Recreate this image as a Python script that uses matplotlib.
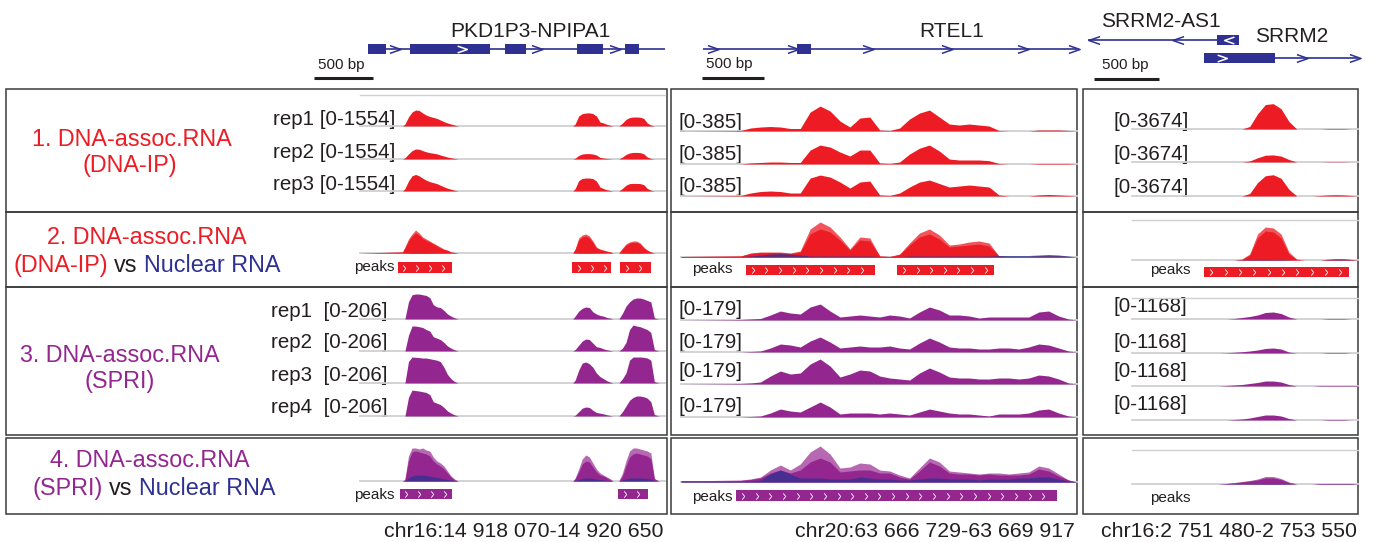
import numpy as np
import matplotlib
matplotlib.use('Agg')
import matplotlib.pyplot as plt
from matplotlib.path import Path
from matplotlib.patches import Rectangle

plt.rcParams['font.family'] = ['Liberation Sans', 'DejaVu Sans']

W, H = 1375, 542

RED = '#ed1c24'
RED_LT = '#f1555b'
PURPLE = '#93278f'
PURPLE_LT = '#b768b3'
BLUE = '#2e3192'
GREY = '#cfcfd4'
INK = '#231f20'

# ---------------- loci ----------------
REGIONS = ['chr16:14 918 070-14 920 650', 'chr20:63 666 729-63 669 917', 'chr16:2 751 480-2 753 550']
LENGTHS = [2580, 3188, 2070]          # bp shown in each locus

# gene models (bp from locus start)
PKD_SPAN = (68, 2580)
PKD_EXONS = [(68, 220), (423, 1100), (1227, 1405), (1836, 2056), (2242, 2360)]
PKD_ARROWS = [296, 1497, 2157]
PKD_ARROWS_IN = [863]
RTEL_SPAN = (177, 3188)
RTEL_EXONS = [(934, 1047)]
RTEL_ARROWS = [258, 902, 1505, 2141, 2753, 3164]
AS1_SPAN = (0, 1158)
AS1_EXONS = [(990, 1158)]
AS1_ARROWS = [46, 690]
AS1_ARROWS_IN = [1081]
SRRM2_SPAN = (890, 2070)
SRRM2_EXONS = [(890, 1434)]
SRRM2_ARROWS = [1641, 2048]
SRRM2_ARROWS_IN = [1028]

# ---------------- locus 1 coverage ----------------
L_POS = [0, 360,
         380, 410, 440, 470, 500, 530, 560, 590, 620, 650, 680, 710, 740, 770, 800, 830,
         850, 1800,
         1820, 1850, 1880, 1910, 1940, 1970, 2000, 2030, 2060, 2090, 2120, 2140,
         2170,
         2190, 2220, 2250, 2280, 2310, 2340, 2370, 2400, 2430, 2460, 2490, 2510,
         2530, 2580]
L_IP1 = [0, 0,
         100, 450, 700, 800, 780, 650, 550, 480, 430, 380, 300, 220, 150, 100, 50, 0,
         0, 0,
         100, 500, 620, 650, 660, 620, 500, 200, 150, 80, 30, 0,
         0,
         0, 150, 330, 420, 450, 450, 440, 380, 150, 50, 0, 0,
         0, 0]
L_IP2 = [0, 0,
         60, 250, 420, 500, 490, 420, 360, 320, 290, 260, 200, 150, 100, 60, 30, 0,
         0, 0,
         40, 180, 250, 270, 270, 250, 200, 80, 50, 25, 10, 0,
         0,
         0, 100, 230, 300, 330, 330, 320, 260, 100, 30, 0, 0,
         0, 0]
L_IP3 = [0, 0,
         120, 500, 760, 830, 760, 640, 540, 470, 420, 370, 290, 210, 140, 90, 40, 0,
         0, 0,
         120, 520, 630, 650, 650, 620, 500, 200, 120, 60, 20, 0,
         0,
         0, 130, 290, 370, 380, 380, 370, 320, 130, 40, 0, 0,
         0, 0]
L_VS_LT = [0, 1,
           6, 14, 19, 23, 20, 16, 14, 12, 10, 8, 6, 4, 3, 1, 0.5, 0,
           0, 0,
           4, 15, 18, 19, 17, 12, 6, 4, 3, 2, 1, 0,
           0,
           0, 5, 9, 11, 12, 12, 10, 6, 3, 1, 0, 0,
           0, 0]
L_VS = [0, 1,
        5, 12, 17, 20, 18, 14.5, 12.5, 11, 9, 7, 5, 3.5, 2.5, 1, 0.5, 0,
        0, 0,
        3.5, 13, 16, 17, 15, 10.5, 5, 3.5, 2.5, 1.5, 1, 0,
        0,
        0, 4, 8, 10, 10.5, 10.5, 9, 5, 2.5, 1, 0, 0,
        0, 0]
L_VS_NUC = [0, 0.2,
            0.2, 0.4, 0.5, 0.6, 0.6, 0.5, 0.5, 0.4, 0.4, 0.3, 0.3, 0.2, 0.2, 0.1, 0.1, 0,
            0, 0,
            0.2, 0.3, 0.4, 0.4, 0.4, 0.3, 0.2, 0.2, 0.1, 0.1, 0, 0,
            0,
            0, 0.2, 0.3, 0.4, 0.4, 0.4, 0.3, 0.2, 0.1, 0, 0, 0,
            0, 0]
L_SP1 = [0, 0,
         0, 120, 170, 175, 175, 170, 165, 150, 100, 85, 80, 60, 35, 20, 8, 0,
         0, 0,
         20, 55, 75, 84, 80, 50, 35, 25, 20, 10, 5, 0,
         0,
         0, 40, 90, 120, 140, 147, 147, 140, 130, 120, 8, 3,
         0, 0]
L_SP2 = [0, 0,
         0, 110, 175, 175, 170, 165, 150, 140, 100, 90, 80, 60, 35, 20, 8, 0,
         0, 0,
         10, 40, 70, 84, 80, 55, 30, 25, 15, 8, 3, 0,
         0,
         0, 20, 60, 150, 182, 175, 170, 160, 150, 130, 10, 5,
         0, 0]
L_SP3 = [0, 0,
         0, 150, 182, 180, 178, 175, 175, 170, 165, 160, 150, 110, 60, 30, 10, 0,
         0, 0,
         20, 90, 140, 147, 135, 110, 70, 45, 30, 15, 5, 0,
         0,
         0, 30, 70, 160, 182, 182, 182, 180, 175, 160, 10, 5,
         0, 0]
L_SP4 = [0, 0,
         0, 130, 182, 178, 175, 170, 165, 150, 100, 90, 80, 60, 35, 20, 8, 0,
         0, 0,
         5, 30, 55, 63, 60, 40, 25, 20, 15, 8, 3, 0,
         0,
         0, 30, 70, 110, 130, 140, 140, 135, 125, 100, 10, 5,
         0, 0]
L_SV_LT = [0, 0,
           2, 25, 33, 33, 32, 33, 31, 30, 24, 20, 18, 15, 10, 5, 2, 0,
           0, 0,
           3, 12, 22, 26, 24, 18, 12, 8, 6, 4, 2, 0,
           0,
           0, 8, 20, 30, 33, 33, 32, 31, 30, 28, 3, 1,
           0, 0]
L_SV = [0, 0,
        1, 20, 29, 30, 29, 28, 27, 25, 20, 17, 15, 12, 8, 4, 1, 0,
        0, 0,
        2, 9, 17, 20, 19, 14, 9, 6, 5, 3, 1, 0,
        0,
        0, 5, 15, 24, 27, 28, 27, 26, 25, 22, 2, 1,
        0, 0]
L_SV_NUC = [0, 0,
            0.5, 3, 5, 6, 6, 6, 5.5, 5, 4, 3.5, 3, 2, 1.5, 1, 0.5, 0,
            0, 0,
            0.5, 1.5, 2.5, 3, 3, 2.5, 2, 1.5, 1, 0.5, 0.5, 0,
            0,
            0, 1, 2, 3, 3, 3, 3, 3, 2.5, 2, 0.5, 0,
            0, 0]
L_PEAKS_IP = [(321, 778), (1794, 2123), (2200, 2462)]
L_PEAKS_SP = [(338, 778), (2183, 2436)]

# ---------------- locus 2 coverage ----------------
M_POS = [0, 480, 560, 640, 720, 800, 880, 960,
         1040, 1120, 1200, 1280, 1360,
         1440, 1520, 1600, 1680, 1760,
         1840, 1920, 2000, 2080, 2160,
         2240, 2320, 2400, 2480, 2560,
         2640, 2720, 2800, 2880, 2960,
         3040, 3120, 3188]
M_IP1 = [0, 6, 36, 48, 54, 48, 30, 30,
         228, 300, 240, 120, 48,
         156, 168, 12, 6, 36,
         144, 216, 252, 168, 84,
         72, 84, 72, 60, 6,
         0, 0, 0, 12, 12,
         12, 6, 0]
M_IP2 = [0, 0, 12, 18, 24, 24, 18, 18,
         168, 228, 204, 144, 96,
         168, 168, 12, 6, 24,
         120, 190, 228, 156, 60,
         48, 48, 48, 40, 6,
         0, 0, 0, 6, 6,
         6, 6, 0]
M_IP3 = [0, 6, 36, 54, 60, 54, 36, 36,
         216, 252, 228, 168, 96,
         168, 180, 12, 6, 36,
         108, 168, 192, 150, 108,
         120, 132, 120, 108, 12,
         0, 0, 0, 12, 18,
         12, 6, 0]
M_VS_LT = [0.5, 1, 4, 5, 5, 5, 4, 6,
           28, 35, 30, 20, 8,
           20, 19, 1, 0.5, 3,
           14, 24, 28, 22, 12,
           13, 15, 16, 14, 1,
           0.5, 0.5, 0.5, 1, 1,
           1, 0.5, 0]
M_VS = [0.5, 1, 3.5, 4.5, 4.5, 4.5, 3.5, 5,
        23, 28, 25, 17, 7,
        17, 16, 1, 0.5, 2.5,
        12, 20, 23, 18, 10,
        11, 12, 13, 11, 1,
        0.5, 0.5, 0.5, 1, 1,
        1, 0.5, 0]
M_VS_NUC = [0.5, 0.5, 1, 2, 3, 3.5, 3, 2,
            1, 1, 1, 1, 1,
            1, 1, 0.5, 0.5, 0.5,
            1, 1, 1, 1, 1,
            1, 1, 1, 1, 1.5,
            1.5, 1.5, 1.5, 2, 2.5,
            2, 1, 0]
M_SP1 = [0, 3, 6, 9, 30, 54, 42, 36,
         78, 96, 54, 18, 24,
         30, 24, 18, 30, 24,
         12, 48, 78, 60, 30,
         30, 24, 12, 18, 18,
         18, 18, 18, 48, 54,
         24, 6, 0]
M_SP2 = [0, 0, 3, 6, 24, 48, 42, 30,
         66, 90, 60, 24, 30,
         36, 30, 30, 36, 24,
         18, 54, 84, 60, 30,
         24, 24, 18, 18, 24,
         24, 18, 30, 48, 42,
         24, 6, 0]
M_SP3 = [0, 3, 6, 12, 48, 78, 60, 66,
         120, 150, 108, 42, 60,
         84, 78, 48, 36, 30,
         24, 66, 96, 72, 42,
         36, 36, 30, 30, 36,
         36, 30, 36, 54, 48,
         30, 6, 0]
M_SP4 = [0, 0, 3, 6, 24, 48, 36, 30,
         60, 90, 60, 18, 24,
         24, 24, 18, 24, 18,
         12, 30, 48, 36, 24,
         18, 18, 12, 6, 18,
         18, 18, 24, 42, 48,
         24, 6, 0]
M_SV_LT = [1, 2, 3, 5, 12, 17, 12, 18,
           30, 36, 28, 14, 15,
           19, 18, 12, 11, 7,
           4, 14, 24, 20, 11,
           10, 9, 8, 9, 9,
           8, 9, 10, 16, 14,
           8, 2, 0]
M_SV = [0.5, 1.5, 2.5, 4, 9, 12, 9, 12,
        20, 24, 20, 10, 11,
        12, 12, 9, 9, 5,
        3, 11, 20, 16, 9,
        8, 8, 7, 8, 7,
        7, 7, 8, 13, 11,
        6, 2, 0]
M_SV_NUC = [1.5, 0.5, 1, 2, 8, 12, 8, 4,
            4, 4, 3, 3, 3,
            5, 4, 3, 3, 2,
            2, 3, 4, 4, 3,
            3, 3, 2, 3, 3,
            3, 4, 4, 5, 5,
            3, 1, 0]
M_PEAKS_IP = [(523, 1562), (1739, 2520)]
M_PEAKS_SP = [(443, 3027)]

# ---------------- locus 3 coverage ----------------
R_POS = [0, 1000, 1060, 1120, 1180, 1240, 1300, 1360, 1420, 1480,
         1540, 1600, 1660, 1720, 1780, 1840, 1900, 1960, 2020, 2070]
R_IP1 = [0, 0, 0, 0, 0, 300, 1800, 2900, 3000, 2400, 900, 0, 0, 0, 0, 60, 60, 60, 0, 0]
R_IP2 = [0, 0, 0, 0, 0, 120, 500, 800, 840, 700, 300, 0, 0, 0, 0, 30, 30, 30, 0, 0]
R_IP3 = [0, 0, 0, 0, 0, 300, 1600, 2400, 2520, 2100, 800, 0, 0, 0, 60, 120, 150, 120, 60, 0]
R_VS_LT = [0, 0, 0, 0, 1, 6, 26, 33, 32, 26, 8, 1, 0, 0, 0, 1, 1.5, 1.5, 0.5, 0]
R_VS = [0, 0, 0, 0, 0.5, 5, 22, 29, 28, 22, 6, 0.5, 0, 0, 0, 0.5, 1, 1, 0.5, 0]
R_VS_NUC = [0, 0, 0, 0, 0.3, 0.5, 0.6, 0.6, 0.6, 0.5, 0.3, 0, 0, 0, 0, 0.3, 0.5, 0.5, 0.3, 0]
R_SP1 = [0, 0, 0, 20, 60, 100, 160, 260, 280, 220, 80, 0, 0, 0, 0, 20, 20, 20, 0, 0]
R_SP2 = [0, 0, 10, 30, 50, 80, 120, 180, 200, 160, 40, 0, 0, 0, 0, 20, 20, 20, 0, 0]
R_SP3 = [0, 0, 20, 40, 60, 100, 140, 200, 200, 160, 60, 0, 0, 0, 20, 20, 20, 20, 20, 20]
R_SP4 = [0, 0, 0, 20, 40, 80, 140, 200, 200, 160, 60, 0, 0, 0, 0, 20, 20, 20, 0, 0]
R_SV_LT = [0, 0, 0.5, 1.5, 2.5, 3.5, 5, 7.5, 7.5, 5.5, 2, 0, 0, 0, 0.5, 0.5, 0.5, 0.5, 0.5, 0]
R_SV = [0, 0, 0.5, 1, 2, 3, 4, 6, 6, 4.5, 1.5, 0, 0, 0, 0.5, 0.5, 0.5, 0.5, 0.5, 0]
R_SV_NUC = [0, 0, 0.2, 0.3, 0.4, 0.5, 0.5, 0.6, 0.6, 0.5, 0.3, 0, 0, 0, 0.2, 0.2, 0.2, 0.2, 0.2, 0]
R_PEAKS_IP = [(890, 2002)]

# pixel spans of the three data panels
COLS = [(360, 665), (681, 1077), (1088, 1358)]

CHEV_R = Path([(-0.5, 0.35), (0.5, 0), (-0.5, -0.35)], [Path.MOVETO, Path.LINETO, Path.LINETO])
CHEV_L = Path([(0.5, 0.35), (-0.5, 0), (0.5, -0.35)], [Path.MOVETO, Path.LINETO, Path.LINETO])
TICK = Path([(-0.2, 0.5), (0.2, 0), (-0.2, -0.5)], [Path.MOVETO, Path.LINETO, Path.LINETO])

fig = plt.figure(figsize=(W / 100, H / 100), dpi=100, facecolor='white')
bg = fig.add_axes([0, 0, 1, 1])
bg.set_xlim(0, W)
bg.set_ylim(H, 0)
bg.axis('off')


def add_ax(col, ytop, ybot, ymin, ymax):
    x0, x1 = COLS[col]
    ax = fig.add_axes([x0 / W, 1 - ybot / H, (x1 - x0) / W, (ybot - ytop) / H])
    ax.set_xlim(0, LENGTHS[col])
    ax.set_ylim(ymin, ymax)
    ax.axis('off')
    return ax


def coverage(col, ybase, height, ymax, pos, vals, color, light=None, lcolor=None,
             nuc=None, x_from=0.0, top=None):
    ax = add_ax(col, ybase - height, ybase, 0, ymax)
    ax.axhline(0, xmin=x_from, color=GREY, lw=1.3, zorder=1, clip_on=False)
    if top is not None:
        ax.axhline(top, xmin=x_from, color=GREY, lw=1.0, zorder=1, clip_on=False)
    if light is not None:
        ax.fill_between(pos, light, color=lcolor, lw=0, zorder=2)
    ax.fill_between(pos, vals, color=color, lw=0, zorder=3)
    if nuc is not None:
        ax.fill_between(pos, nuc, color=BLUE, alpha=0.75, lw=0, zorder=4)
    return ax


def peaks(col, ytop, ybot, intervals, color):
    ax = add_ax(col, ytop, ybot, 0, 1)
    ax.broken_barh([(s, e - s) for s, e in intervals], (0, 1), facecolors=color, lw=0)
    for s, e in intervals:
        xs = np.arange(s + 55, e - 30, 110)
        ax.plot(xs, np.full(xs.shape, 0.5), ls='none', marker=TICK, ms=4.5,
                mfc='none', mec='white', mew=0.6)


def gene(ax, y, span, exons, arrows, inner, mark):
    ax.plot(span, [y, y], color=BLUE, lw=1.2, solid_capstyle='butt', clip_on=False)
    ax.broken_barh([(s, e - s) for s, e in exons], (y - 5, 10), facecolors=BLUE, lw=0)
    ax.plot(arrows, [y] * len(arrows), ls='none', marker=mark, ms=8, mfc='none',
            mec=BLUE, mew=1.1, clip_on=False)
    if inner:
        ax.plot(inner, [y] * len(inner), ls='none', marker=mark, ms=7, mfc='none',
                mec='white', mew=1.1, zorder=5)


# ---------------- gene tracks ----------------
gax = []
for c in range(3):
    x0, x1 = COLS[c]
    a = fig.add_axes([x0 / W, 1 - 86 / H, (x1 - x0) / W, 86 / H])
    a.set_xlim(0, LENGTHS[c])
    a.set_ylim(86, 0)
    a.axis('off')
    gax.append(a)

gene(gax[0], 49, PKD_SPAN, PKD_EXONS, PKD_ARROWS, PKD_ARROWS_IN, CHEV_R)
gene(gax[1], 49, RTEL_SPAN, RTEL_EXONS, RTEL_ARROWS, [], CHEV_R)
gene(gax[2], 40, AS1_SPAN, AS1_EXONS, AS1_ARROWS, AS1_ARROWS_IN, CHEV_L)
gene(gax[2], 58, SRRM2_SPAN, SRRM2_EXONS, SRRM2_ARROWS, SRRM2_ARROWS_IN, CHEV_R)

# 500 bp scale bars
for a, start, yb in [(gax[0], -389, 78), (gax[1], 169, 78), (gax[2], 46, 79)]:
    a.plot([start, start + 500], [yb, yb], color=INK, lw=2.2, clip_on=False,
           solid_capstyle='butt')

GS = 15
bg.text(530, 37, 'PKD1P3-NPIPA1', fontsize=GS, color=INK, ha='center', va='baseline')
bg.text(952, 37, 'RTEL1', fontsize=GS, color=INK, ha='center', va='baseline')
bg.text(1101, 27, 'SRRM2-AS1', fontsize=GS, color=INK, ha='left', va='baseline')
bg.text(1255, 42, 'SRRM2', fontsize=GS, color=INK, ha='left', va='baseline')
for x, y in [(318, 69), (706, 68), (1102, 69)]:
    bg.text(x, y, '500 bp', fontsize=11, color=INK, ha='left', va='baseline')

# ---------------- panel boxes ----------------
for x0, x1 in [(6, 667), (671, 1077), (1083, 1358)]:
    for y0, y1 in [(89, 212), (212, 287), (287, 435), (438, 514)]:
        bg.add_patch(Rectangle((x0, y0), x1 - x0, y1 - y0, fill=False,
                               ec='#3a3a3a', lw=1.1))

# ---------------- row 1: DNA-IP replicates ----------------
TS = 14.8
RF = 0.163  # right panel baselines start after the label column
for yb, vals, top in [(126, L_IP1, 1554), (159, L_IP2, None), (191, L_IP3, None)]:
    coverage(0, yb, 31, 1554, L_POS, vals, RED, top=top)
for yb, vals in [(131, M_IP1), (164, M_IP2), (196, M_IP3)]:
    coverage(1, yb, 32, 385, M_POS, vals, RED)
for yb, vals in [(129, R_IP1), (162, R_IP2), (196, R_IP3)]:
    coverage(2, yb, 31, 3674, R_POS, vals, RED, x_from=RF)

for i, (yl, ym, yr) in enumerate([(125, 128, 127), (158, 160, 160), (190, 192, 193)]):
    bg.text(395, yl, 'rep%d [0-1554]' % (i + 1), fontsize=TS, color=INK, ha='right', va='baseline')
    bg.text(679, ym, '[0-385]', fontsize=TS, color=INK, ha='left', va='baseline')
    bg.text(1114, yr, '[0-3674]', fontsize=TS, color=INK, ha='left', va='baseline')

# ---------------- row 2: DNA-IP vs nuclear ----------------
coverage(0, 253, 40, 40, L_POS, L_VS, RED, light=L_VS_LT, lcolor=RED_LT, nuc=L_VS_NUC)
coverage(1, 257, 40, 40, M_POS, M_VS, RED, light=M_VS_LT, lcolor=RED_LT, nuc=M_VS_NUC)
coverage(2, 260, 40, 40, R_POS, R_VS, RED, light=R_VS_LT, lcolor=RED_LT, nuc=R_VS_NUC,
         x_from=RF, top=40)
peaks(0, 262, 273, L_PEAKS_IP, RED)
peaks(1, 265, 275, M_PEAKS_IP, RED)
peaks(2, 267, 277, R_PEAKS_IP, RED)
bg.text(395, 271, 'peaks', fontsize=11, color=INK, ha='right', va='baseline')
bg.text(692, 273, 'peaks', fontsize=11, color=INK, ha='left', va='baseline')
bg.text(1150, 274, 'peaks', fontsize=11, color=INK, ha='left', va='baseline')

# ---------------- row 3: SPRI replicates ----------------
for yb, vals in [(319, L_SP1), (351, L_SP2), (383, L_SP3), (416, L_SP4)]:
    coverage(0, yb, 29.4, 206, L_POS, vals, PURPLE)
for yb, vals in [(320, M_SP1), (352, M_SP2), (384, M_SP3), (417, M_SP4)]:
    coverage(1, yb, 29.8, 179, M_POS, vals, PURPLE)
for yb, vals, top in [(319, R_SP1, 840), (353, R_SP2, None), (386, R_SP3, None), (420, R_SP4, None)]:
    coverage(2, yb, 29.2, 1168, R_POS, vals, PURPLE, x_from=RF, top=top)

for i, (yl, ym, yr) in enumerate([(317, 315, 312), (348, 348, 348), (381, 377, 377), (413, 412, 410)]):
    bg.text(388, yl, 'rep%d  [0-206]' % (i + 1), fontsize=TS, color=INK, ha='right', va='baseline')
    bg.text(679, ym, '[0-179]', fontsize=TS, color=INK, ha='left', va='baseline')
    bg.text(1114, yr, '[0-1168]', fontsize=TS, color=INK, ha='left', va='baseline')

# ---------------- row 4: SPRI vs nuclear ----------------
coverage(0, 481, 40, 40, L_POS, L_SV, PURPLE, light=L_SV_LT, lcolor=PURPLE_LT, nuc=L_SV_NUC)
coverage(1, 482, 40, 40, M_POS, M_SV, PURPLE, light=M_SV_LT, lcolor=PURPLE_LT, nuc=M_SV_NUC)
coverage(2, 484, 40, 40, R_POS, R_SV, PURPLE, light=R_SV_LT, lcolor=PURPLE_LT, nuc=R_SV_NUC,
         x_from=RF, top=34)
peaks(0, 489, 499, L_PEAKS_SP, PURPLE)
peaks(1, 490, 501, M_PEAKS_SP, PURPLE)
bg.text(395, 499, 'peaks', fontsize=11, color=INK, ha='right', va='baseline')
bg.text(692, 501, 'peaks', fontsize=11, color=INK, ha='left', va='baseline')
bg.text(1150, 502, 'peaks', fontsize=11, color=INK, ha='left', va='baseline')

# ---------------- row labels ----------------
LS = 16.8


def label_line(xc, y, parts):
    first = bg.text(xc, y, parts[0][0], color=parts[0][1], fontsize=LS, ha='left', va='baseline')
    prev = first
    for s, c in parts[1:]:
        prev = bg.annotate(s, xy=(1, 0), xycoords=prev, xytext=(4.5, 0), textcoords='offset points',
                           ha='left', va='bottom', color=c, fontsize=LS)
    r = fig.canvas.get_renderer()
    x0 = first.get_window_extent(r).x0
    x1 = prev.get_window_extent(r).x1
    first.set_x(xc - (x1 - x0) / 2)


bg.text(132, 146, '1. DNA-assoc.RNA', color=RED, fontsize=LS, ha='center', va='baseline')
bg.text(130, 172, '(DNA-IP)', color=RED, fontsize=LS, ha='center', va='baseline')
bg.text(147, 244, '2. DNA-assoc.RNA', color=RED, fontsize=LS, ha='center', va='baseline')
label_line(147, 272, [('(DNA-IP)', RED), ('vs', INK), ('Nuclear RNA', BLUE)])
bg.text(120, 362, '3. DNA-assoc.RNA', color=PURPLE, fontsize=LS, ha='center', va='baseline')
bg.text(120, 388, '(SPRI)', color=PURPLE, fontsize=LS, ha='center', va='baseline')
bg.text(150, 467, '4. DNA-assoc.RNA', color=PURPLE, fontsize=LS, ha='center', va='baseline')
label_line(154, 495, [('(SPRI)', PURPLE), ('vs', INK), ('Nuclear RNA', BLUE)])

# ---------------- locus coordinates ----------------
CS = 15.3
bg.text(663, 537, REGIONS[0], fontsize=CS, color=INK, ha='right', va='baseline')
bg.text(1075, 537, REGIONS[1], fontsize=CS, color=INK, ha='right', va='baseline')
bg.text(1357, 537, REGIONS[2], fontsize=CS, color=INK, ha='right', va='baseline')

fig.savefig('out.png', dpi=100, facecolor='white')
